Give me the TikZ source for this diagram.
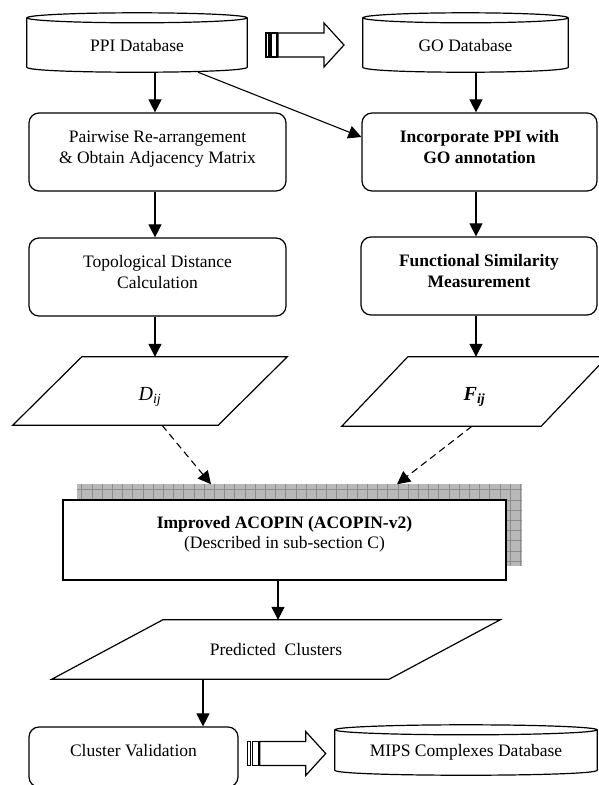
\documentclass[tikz,border=0pt]{standalone}
\usepackage{fontspec}
\setmainfont{Liberation Serif}
\usetikzlibrary{arrows.meta,calc,backgrounds}
\begin{document}
\begin{tikzpicture}[x=1pt, y=-1pt,
  every node/.style={font=\fontsize{17.5}{20.5}\selectfont},
  procbox/.style={draw, rounded corners=10pt, line width=1.2pt, align=center, text depth=10pt},
  boldtext/.style={font=\fontsize{17.5}{20.5}\selectfont\bfseries},
  dbnode/.style={text height=17pt, text depth=0pt},
  datanode/.style={align=center},
  outline/.style={line width=1.2pt},
  arr/.style={line width=1.1pt, -{Triangle[length=13pt,width=13pt]}},
  darr/.style={arr, dash pattern=on 7pt off 4.5pt},
  stripearrow/.pic={
    \draw[outline] (-39,-12) rectangle (-36,12);
    \draw[outline] (-34,-12) rectangle (-28,12);
    \draw[outline] (-27,-12) -- (19,-12) -- (19,-22) -- (39,0) -- (19,22) -- (19,12) -- (-27,12) -- cycle;
  }]
\useasboundingbox (0,0) rectangle (598,785);
\coordinate (lcol) at (155,0);
\coordinate (rcol) at (476,0);
\coordinate (mcol) at (278,0);
\coordinate (bcol) at (203,0);

% databases
\node[dbnode, minimum width=220, minimum height=59] (ppi) at (137,42.5) {PPI Database};
\draw[outline] ([yshift=-5pt]ppi.north) ellipse [x radius=110pt, y radius=5pt];
\draw[outline] ([yshift=-5pt]ppi.north west) -- ([yshift=5pt]ppi.south west) .. controls +(0,6.7) and +(0,6.7) .. ([yshift=5pt]ppi.south east) -- ([yshift=-5pt]ppi.north east);

\node[dbnode, minimum width=205, minimum height=59] (go) at (465.5,42.5) {GO Database};
\draw[outline] ([yshift=-5pt]go.north) ellipse [x radius=102.5pt, y radius=5pt];
\draw[outline] ([yshift=-5pt]go.north west) -- ([yshift=5pt]go.south west) .. controls +(0,6.7) and +(0,6.7) .. ([yshift=5pt]go.south east) -- ([yshift=-5pt]go.north east);

\node[dbnode, text height=12pt, minimum width=262, minimum height=50] (mips) at (466,750) {MIPS Complexes Database};
\draw[outline] ([yshift=-5pt]mips.north) ellipse [x radius=131pt, y radius=5pt];
\draw[outline] ([yshift=-5pt]mips.north west) -- ([yshift=5pt]mips.south west) .. controls +(0,6.7) and +(0,6.7) .. ([yshift=5pt]mips.south east) -- ([yshift=-5pt]mips.north east);

% process boxes
\node[procbox, minimum width=257, minimum height=78] (pair) at (157.5,152) {Pairwise Re-arrangement\\\& Obtain Adjacency Matrix};
\node[procbox, minimum width=257, minimum height=78] (topo) at (157.5,277) {Topological Distance\\Calculation};
\node[procbox, boldtext, minimum width=235, minimum height=78] (incorp) at (479.5,152) {Incorporate PPI with\\GO annotation};
\node[procbox, boldtext, minimum width=236, minimum height=78] (func) at (479,276) {Functional Similarity\\Measurement};
\node[procbox, text depth=14pt, minimum width=209, minimum height=60] (valid) at (133.5,757) {Cluster Validation};

% data
\node[datanode, font=\fontsize{20}{24}\selectfont\itshape, text height=24pt, text depth=6pt, minimum width=274, minimum height=68] (dij) at (150,391) {D\textsubscript{ij}};
\draw[outline] ([xshift=69pt]dij.north west) -- (dij.north east) -- ([xshift=-69pt]dij.south east) -- (dij.south west) -- cycle;
\node[datanode, font=\fontsize{20}{24}\selectfont\bfseries\itshape, text height=24pt, text depth=6pt, minimum width=265, minimum height=69] (fij) at (474.5,391.5) {F\textsubscript{ij}};
\draw[outline] ([xshift=66pt]fij.north west) -- (fij.north east) -- ([xshift=-66pt]fij.south east) -- (fij.south west) -- cycle;
\node[datanode, minimum width=448, minimum height=59] (pred) at (276,649.5) {Predicted\ \ Clusters};
\draw[outline] ([xshift=111pt]pred.north west) -- (pred.north east) -- ([xshift=-111pt]pred.south east) -- (pred.south west) -- cycle;

% main step with grid shadow
\node[draw, fill=white, line width=1.5pt, align=center, text depth=15pt, minimum width=443, minimum height=80] (impr) at (284.5,540) {\textbf{Improved ACOPIN (ACOPIN-v2)}\\(Described in sub-section C)};
\begin{scope}[on background layer]
  \fill[black!28] ($(impr.south west)+(15,-15)$) rectangle ($(impr.north east)+(15,-15)$);
  \draw[black!45, line width=0.5pt, step=10.2pt] ($(impr.south west)+(15,-15)$) grid ($(impr.north east)+(15,-15)$);
\end{scope}

% connectors
\draw[arr] (ppi.south -| lcol) -- (pair.north -| lcol);
\draw[arr] (pair.south -| lcol) -- (topo.north -| lcol);
\draw[arr] (topo.south -| lcol) -- (dij.north -| lcol);
\draw[arr] (go.south -| rcol) -- (incorp.north -| rcol);
\draw[arr] (incorp.south -| rcol) -- (func.north -| rcol);
\draw[arr] (func.south -| rcol) -- (fij.north -| rcol);
\draw[arr] ([xshift=61pt]ppi.south) -- ([yshift=15pt]incorp.west);
\draw[darr] ([xshift=12pt]dij.south) -- ($(impr.north)+(-73.5,-15)$);
\draw[darr] ([xshift=-2.5pt]fij.south) -- ($(impr.north)+(112.5,-15)$);
\draw[arr] (impr.south -| mcol) -- (pred.north -| mcol);
\draw[arr] (pred.south -| bcol) -- (valid.north -| bcol);
\pic at ($(ppi.east)!0.5!(go.west)+(0,2.5)$) {stripearrow};
\pic at ($(valid.east)!0.5!(mips.west)$) {stripearrow};
\end{tikzpicture}
\end{document}
